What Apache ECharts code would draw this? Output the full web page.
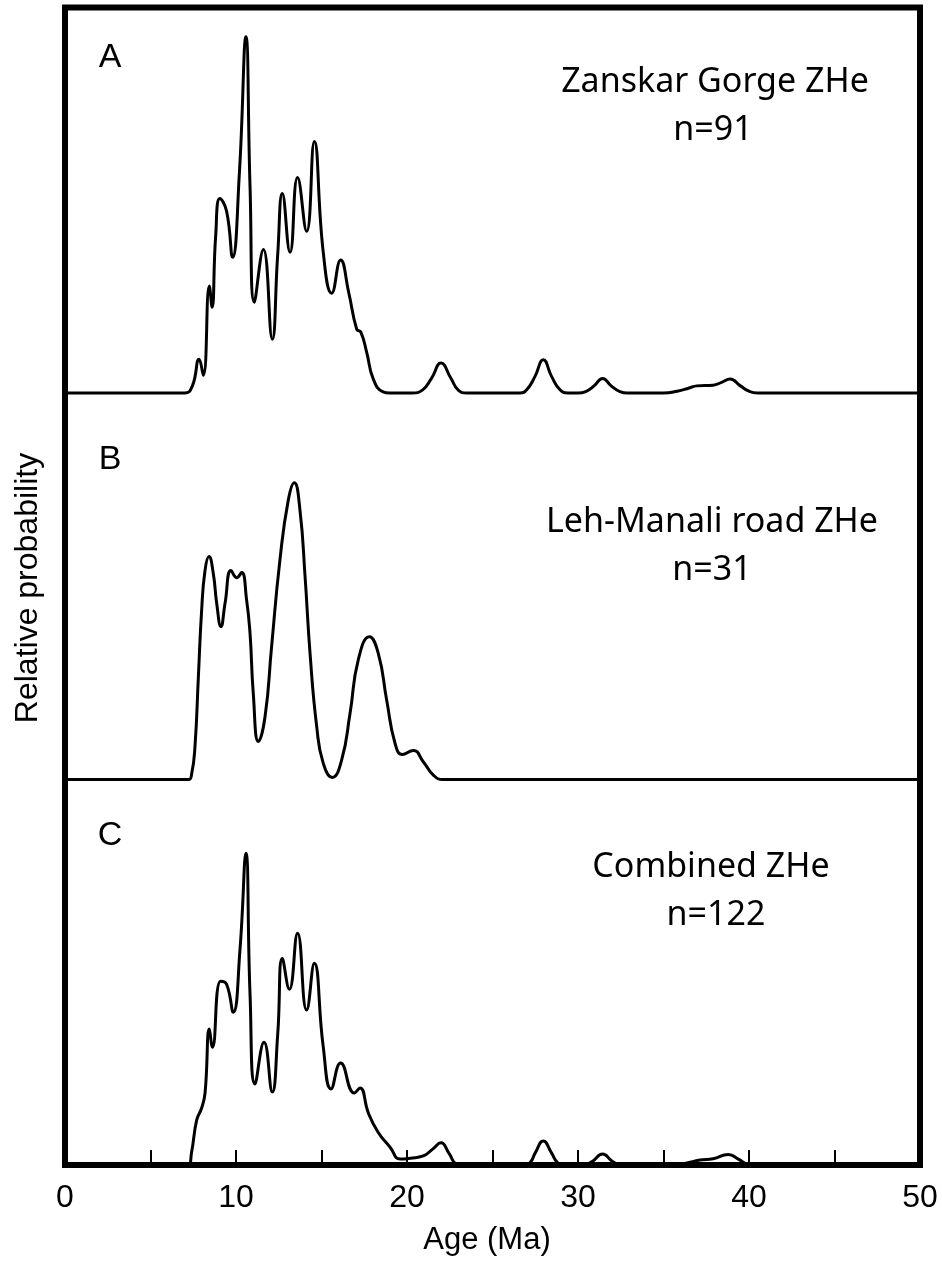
<!DOCTYPE html>
<html>
<head>
<meta charset="utf-8">
<script src="https://cdn.jsdelivr.net/npm/echarts@6/dist/echarts.min.js"></script>
<style>
  html, body { margin: 0; padding: 0; background: #ffffff; }
  #chart { width: 942px; height: 1264px; }
</style>
</head>
<body>
<div id="chart"></div>
<script>
// Age axis ticks (Ma)
const ageTicks = [0, 10, 20, 30, 40, 50];

// Panel A: Zanskar Gorge ZHe probability density (age Ma, relative probability)
const zanskarAge  = [0, 7.0, 7.45, 7.84, 8.09, 8.44, 8.6, 8.81, 9.06, 9.45, 9.8, 10.2, 10.58, 10.82, 11.07, 11.6, 12.12, 12.44, 12.71, 13.16, 13.6, 14.13, 14.58, 15.1, 15.6, 16.12, 16.6, 17.06, 17.3, 17.64, 18.03, 18.6, 19.0,
                     20.3, 20.9, 21.44, 21.99, 22.56, 23.0, 23.5,
                     26.6, 27.0, 27.48, 27.97, 28.46, 28.95, 29.4,
                     30.0, 30.45, 30.94, 31.44, 31.94, 32.45, 32.9,
                     35.0, 35.8, 36.5, 36.94, 37.9, 38.4, 38.9, 39.5, 40.0, 40.5, 50];
const zanskarProb = [0, 0, 2.0, 9.5, 5.0, 30.0, 24.1, 44.0, 54.6, 51.0, 38.1, 61.9, 100, 58.0, 25.5, 40.3, 15.1, 39.0, 56.0, 39.5, 60.5, 45.4, 70.6, 39.6, 28.0, 37.3, 28.0, 17.9, 17.1, 11.5, 3.9, 0.3, 0,
                     0, 0.8, 4.2, 8.4, 4.2, 0.8, 0,
                     0, 0.9, 4.6, 9.3, 4.6, 0.9, 0,
                     0, 0.4, 2.0, 4.1, 2.0, 0.4, 0,
                     0, 0.5, 1.4, 2.0, 2.2, 3.0, 3.9, 2.0, 0.5, 0, 0];

// Panel B: Leh-Manali road ZHe
const lehAge  = [0, 7.21, 7.41, 7.6, 7.8, 7.99, 8.19, 8.42, 8.67, 8.87, 9.12, 9.36, 9.71, 10.04, 10.33, 10.62, 10.82, 11.01, 11.31, 11.7, 12.08, 12.57, 13.06, 13.41, 13.74, 14.04, 14.33, 14.72, 15.1, 15.63,
                 16.18, 16.67, 17.15, 17.8, 18.32, 18.81, 19.3, 19.73, 20.37, 20.95, 21.54, 22.1, 50];
const lehProb = [0, 0, 2.0, 11.0, 34.6, 57.0, 70.5, 75.1, 69.5, 59.4, 51.5, 59.4, 70.4, 68.0, 69.7, 60.5, 49.3, 29.0, 12.8, 21.2, 44.7, 74.0, 94.2, 100, 90.8, 68.3, 42.5, 17.8, 5.5, 0.7,
                 6.6, 22.3, 40.3, 48.1, 42.5, 26.8, 12.2, 8.4, 9.8, 6.0, 1.5, 0, 0];

// Panel C: combined ZHe
const combinedAge  = [0, 7.2, 7.4, 7.7, 7.99, 8.19, 8.44, 8.62, 9.1, 9.45, 9.84, 10.23, 10.58, 10.82, 11.11, 11.64, 12.12, 12.44, 12.71, 13.12, 13.6, 14.13, 14.58, 15.1, 15.56, 16.12, 16.92, 17.25, 17.74, 18.3, 19.0, 19.6, 20.2, 20.95, 21.5, 21.99, 22.45, 22.9, 23.3,
                      26.8, 27.2, 27.5, 27.97, 28.45, 28.8, 29.2,
                      30.3, 30.8, 31.44, 32.0, 32.5,
                      35.5, 36.3, 37.13, 37.9, 38.79, 39.4, 39.9, 40.3, 50];
const combinedProb = [0, 0, 4.0, 14.4, 18.3, 23.1, 43.6, 37.8, 59.0, 58.0, 49.0, 68.9, 100, 55.0, 26.0, 39.4, 23.4, 42.0, 66.3, 56.4, 74.4, 49.7, 64.7, 38.0, 24.4, 32.7, 23.1, 24.7, 16.7, 10.6, 5.8, 1.9, 2.2, 2.9, 5.1, 7.1, 3.8, 0.3, 0,
                      0, 0.8, 3.9, 7.7, 3.9, 0.8, 0,
                      0, 1.0, 3.5, 1.2, 0,
                      0, 0.6, 1.6, 2.0, 3.4, 1.8, 0.3, 0, 0];

// Panel annotations
const panelLetters = ['A', 'B', 'C'];
const panelTitles  = ['Zanskar Gorge ZHe', 'Leh-Manali road ZHe', 'Combined ZHe'];
const panelCounts  = ['n=91', 'n=31', 'n=122'];

const panelSeries = [
  [zanskarAge, zanskarProb],
  [lehAge, lehProb],
  [combinedAge, combinedProb]
];

// Layout of the three stacked panels inside one frame
const frameLeft = 65, frameRight = 920, frameTop = 7.5, frameBottom = 1165;
const panelTops = [7.5, 393, 779.5];
const panelBottoms = [393, 779.5, 1165];
const panelYMax = [108.2, 130.2, 123.7];
const letterPos = [[110, 58], [110, 460], [110, 836]];
const titlePos  = [[715, 82], [712, 522], [711, 867]];
const countPos  = [[713, 130], [712, 570], [716, 915]];

const labelFont = '"Liberation Sans", Arial, Helvetica, sans-serif';
const titleFont = '"Noto Sans", "Open Sans", sans-serif';

const grids = [], xAxes = [], yAxes = [], series = [];
panelSeries.forEach(function (pair, i) {
  const isBottom = i === panelSeries.length - 1;
  grids.push({
    left: frameLeft,
    right: 942 - frameRight,
    top: panelTops[i],
    height: panelBottoms[i] - panelTops[i],
    containLabel: false
  });
  xAxes.push({
    type: 'value',
    gridIndex: i,
    min: 0,
    max: 50,
    interval: 5,
    axisLine: { show: false },
    splitLine: { show: false },
    axisTick: {
      show: isBottom,
      inside: true,
      length: 15,
      lineStyle: { color: '#000', width: 2 }
    },
    axisLabel: {
      show: isBottom,
      margin: 17,
      color: '#000',
      fontSize: 32,
      fontFamily: labelFont,
      formatter: function (v) { return ageTicks.indexOf(v) >= 0 ? String(v) : ''; }
    }
  });
  yAxes.push({
    type: 'value',
    gridIndex: i,
    min: 0,
    max: panelYMax[i],
    show: false,
    splitLine: { show: false }
  });
  const ages = pair[0], probs = pair[1];
  series.push({
    type: 'line',
    xAxisIndex: i,
    yAxisIndex: i,
    data: ages.map(function (a, k) { return [a, probs[k]]; }),
    smooth: 0.5,
    symbol: 'none',
    clip: false,
    lineStyle: { color: '#000', width: 3 }
  });
});

const graphics = [
  {
    type: 'rect',
    z: 100,
    shape: { x: frameLeft, y: frameTop, width: frameRight - frameLeft, height: frameBottom - frameTop },
    style: { fill: 'none', stroke: '#000', lineWidth: 6 }
  },
  {
    type: 'text',
    x: 28, y: 588,
    rotation: Math.PI / 2,
    style: { text: 'Relative probability', font: '32px ' + labelFont, fill: '#000', align: 'center', verticalAlign: 'middle' }
  },
  {
    type: 'text',
    x: 487, y: 1240,
    style: { text: 'Age (Ma)', font: '31px ' + labelFont, fill: '#000', align: 'center', verticalAlign: 'middle' }
  }
];
panelLetters.forEach(function (letter, i) {
  graphics.push({
    type: 'text', x: letterPos[i][0], y: letterPos[i][1],
    style: { text: letter, font: '34px ' + labelFont, fill: '#000', align: 'center', verticalAlign: 'middle' }
  });
  graphics.push({
    type: 'text', x: titlePos[i][0], y: titlePos[i][1],
    style: { text: panelTitles[i], font: '34px ' + titleFont, fill: '#000', align: 'center', verticalAlign: 'middle' }
  });
  graphics.push({
    type: 'text', x: countPos[i][0], y: countPos[i][1],
    style: { text: panelCounts[i], font: '34px ' + titleFont, fill: '#000', align: 'center', verticalAlign: 'middle' }
  });
});

const chart = echarts.init(document.getElementById('chart'), null, { renderer: 'canvas' });
chart.setOption({
  backgroundColor: '#ffffff',
  animation: false,
  grid: grids,
  xAxis: xAxes,
  yAxis: yAxes,
  series: series,
  graphic: graphics
});
</script>
</body>
</html>
